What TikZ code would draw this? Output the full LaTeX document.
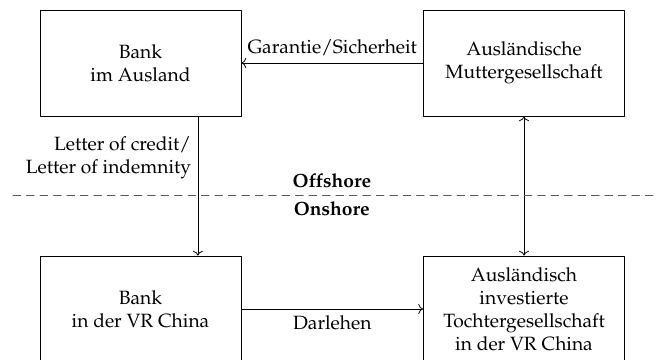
\documentclass[tikz,border=0pt]{standalone}
\usepackage[T1]{fontenc}
\usepackage{mathpazo}
\usepackage{tikz}
\usetikzlibrary{arrows.meta,positioning}

\begin{document}
\begin{tikzpicture}[>=To, line cap=round, line join=round,
  box/.style={draw, minimum width=3.68cm, minimum height=1.94cm, align=center, inner sep=2pt}]
  \useasboundingbox (0,0) rectangle (12,6.585);

  \node[box] (bankA)   at (2.57,5.433)  {Bank\\im Ausland};
  \node[box] (mutter)  at (9.586,5.433) {Ausl\"andische\\Muttergesellschaft};
  \node[box] (bankCN)  at (2.57,0.933)  {Bank\\in der VR China};
  \node[box] (tochter) at (9.586,0.933) {Ausl\"andisch\\investierte\\Tochtergesellschaft\\in der VR China};

  \draw[->] (mutter) -- (bankA) node[midway,above] {Garantie/Sicherheit};
  \draw[->] ([xshift=1.05cm]bankA.south) -- ([xshift=1.05cm]bankCN.north)
      node[pos=0.3,left,align=right] {Letter of credit/\\Letter of indemnity};
  \draw[<->] (mutter) -- (tochter);
  \draw[->] (bankCN) -- (tochter) node[midway,below] {Darlehen};

  % Grenze offshore / onshore
  \coordinate (west) at (0.24,3.018);
  \coordinate (east) at (12,3.018);
  \coordinate (border) at (6.07,3.018);
  \draw[dash pattern=on 4pt off 3pt, black!65] (west) -- (east);
  \node[above=0pt of border] (off) {\textbf{Offshore}};
  \node[below=0pt of border] (on)  {\textbf{Onshore}};
\end{tikzpicture}
\end{document}
